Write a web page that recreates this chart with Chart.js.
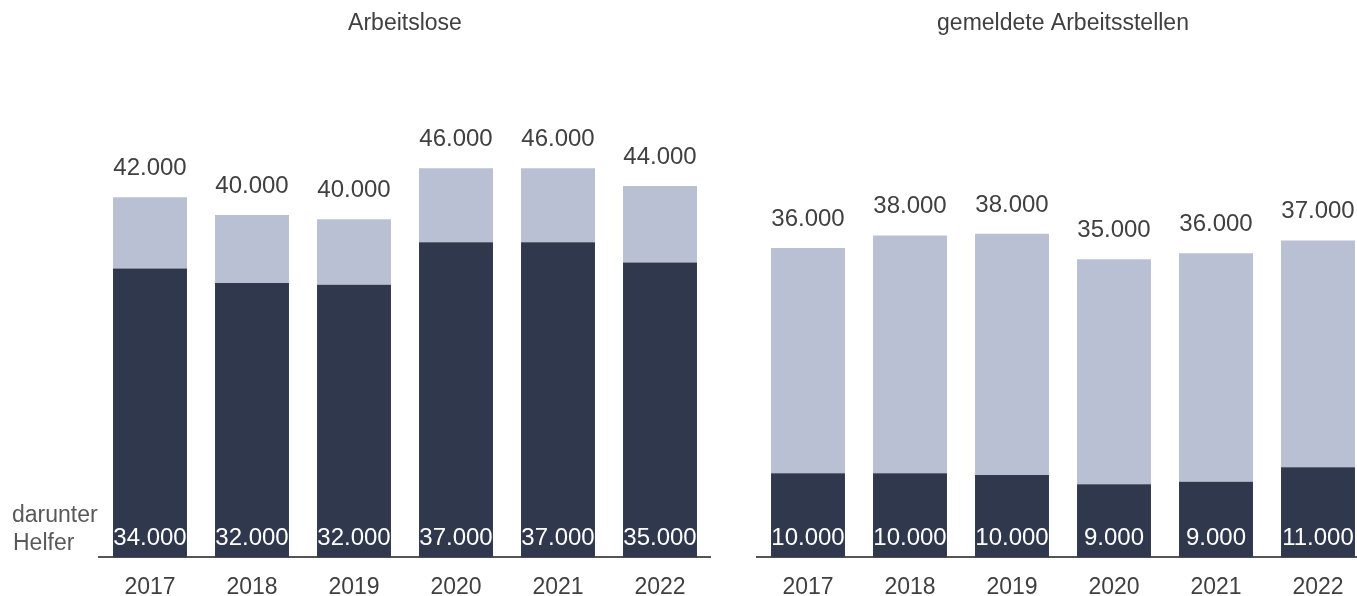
<!DOCTYPE html>
<html lang="de">
<head>
    <meta charset="UTF-8">
    <title>Arbeitslose und gemeldete Arbeitsstellen</title>
    <script src="https://cdn.jsdelivr.net/npm/chart.js"></script>
    <style>
        html, body {
            margin: 0;
            padding: 0;
            background: #ffffff;
            overflow: hidden;
            width: 1357px;
            height: 596px;
        }
        canvas {
            position: absolute;
            top: 0;
        }
        #leftChart { left: 0; }
        #rightChart { left: 720px; }
    </style>
</head>
<body>
    <canvas id="leftChart" width="711" height="617"></canvas>
    <canvas id="rightChart" width="649" height="617"></canvas>
    <script>
        // Jahre
        const years = ['2017', '2018', '2019', '2020', '2021', '2022'];

        // Arbeitslose insgesamt und darunter Helfer
        const arbeitsloseGesamt = [42400, 40300, 39800, 45800, 45800, 43700];
        const arbeitsloseHelfer = [34000, 32300, 32100, 37100, 37100, 34700];

        // gemeldete Arbeitsstellen insgesamt und darunter Helfer
        const stellenGesamt = [36400, 37900, 38100, 35100, 35800, 37300];
        const stellenHelfer = [9900, 9900, 9700, 8600, 8900, 10600];

        const FONT = '"Liberation Sans", Arial, sans-serif';
        const darkBlue = '#30384e';
        const lightBlue = '#b9c0d3';
        const textColor = '#404040';

        function fmt(v) {
            // auf Tausender gerundet, deutsche Schreibweise
            return (Math.round(v / 1000) * 1000).toLocaleString('de-DE');
        }

        // zeichnet Gesamtwert über dem Balken und Helferwert unten im Balken
        const valueLabels = {
            id: 'valueLabels',
            afterDatasetsDraw(chart, args, opts) {
                const ctx = chart.ctx;
                const restMeta = chart.getDatasetMeta(1);
                const helferMeta = chart.getDatasetMeta(0);
                const bottom = chart.chartArea.bottom;
                ctx.save();
                ctx.textAlign = 'center';
                ctx.textBaseline = 'alphabetic';
                ctx.font = '24px ' + FONT;
                restMeta.data.forEach((bar, i) => {
                    ctx.fillStyle = textColor;
                    ctx.fillText(fmt(opts.totals[i]), bar.x, bar.y - 22);
                    ctx.fillStyle = '#ffffff';
                    ctx.fillText(fmt(opts.helfer[i]), helferMeta.data[i].x, bottom - 12);
                });
                if (opts.sideLabel) {
                    ctx.textAlign = 'left';
                    ctx.fillStyle = '#595959';
                    ctx.font = '23px ' + FONT;
                    ctx.fillText('darunter', 12, bottom - 35);
                    ctx.fillText('Helfer', 13, bottom - 7);
                }
                ctx.restore();
            }
        };

        function makeChart(id, title, totals, helfer, padLeft, sideLabel) {
            const rest = totals.map((t, i) => t - helfer[i]);
            return new Chart(document.getElementById(id), {
                type: 'bar',
                data: {
                    labels: years,
                    datasets: [
                        { label: 'darunter Helfer', data: helfer, backgroundColor: darkBlue },
                        { label: 'übrige', data: rest, backgroundColor: lightBlue }
                    ]
                },
                options: {
                    responsive: false,
                    animation: false,
                    layout: { padding: { left: padLeft, right: 0, top: 0, bottom: 0 } },
                    datasets: {
                        bar: { categoryPercentage: 1, barPercentage: 0.725 }
                    },
                    scales: {
                        x: {
                            stacked: true,
                            grid: { display: false, drawTicks: false },
                            border: { display: true, color: '#555555', width: 2 },
                            ticks: {
                                color: textColor,
                                font: { size: 23, family: FONT },
                                padding: 16
                            }
                        },
                        y: {
                            stacked: true,
                            display: false,
                            min: 0,
                            max: 60000
                        }
                    },
                    plugins: {
                        legend: { display: false },
                        tooltip: { enabled: false },
                        title: {
                            display: true,
                            text: title,
                            color: textColor,
                            font: { size: 23, family: FONT, weight: 'normal' },
                            padding: { top: 10, bottom: 10 }
                        },
                        valueLabels: { totals: totals, helfer: helfer, sideLabel: sideLabel }
                    }
                },
                plugins: [valueLabels]
            });
        }

        makeChart('leftChart', 'Arbeitslose', arbeitsloseGesamt, arbeitsloseHelfer, 99, true);
        makeChart('rightChart', 'gemeldete Arbeitsstellen', stellenGesamt, stellenHelfer, 37, false);
    </script>
</body>
</html>
